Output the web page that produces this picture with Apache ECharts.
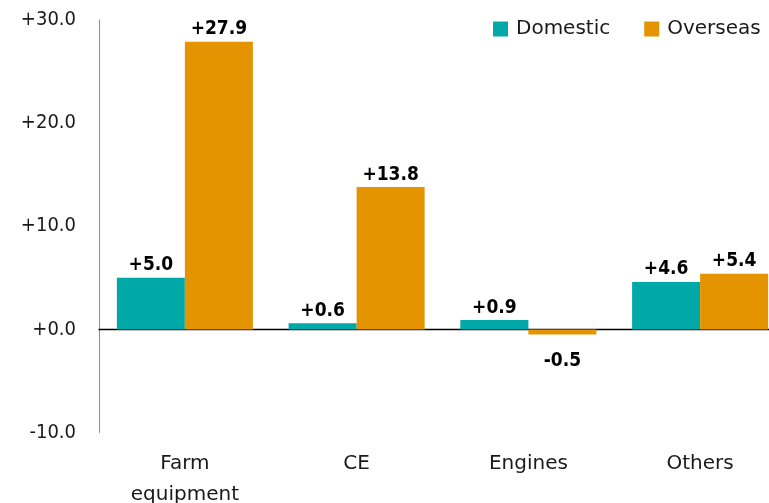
<!DOCTYPE html>
<html><head><meta charset="utf-8">
<script src="https://cdn.jsdelivr.net/npm/echarts@6/dist/echarts.min.js"></script>
<style>html,body{margin:0;padding:0;background:#fff;}#c{width:769px;height:503px;}</style>
</head><body><div id="c"></div>
<script>
const categories = ['Farm\nequipment', 'CE', 'Engines', 'Others'];
const domestic = [5.0, 0.6, 0.9, 4.6];
const overseas = [27.9, 13.8, -0.5, 5.4];
const seriesNames = ['Domestic', 'Overseas'];
const yTicks = { min: -10, max: 30, interval: 10 };

const fmt = v => (v >= 0 ? '+' : '') + Number(v).toFixed(1);
const FONT = 'DejaVu Sans';
const FONT_C = '"DejaVu Sans Condensed", "DejaVu Sans"';
function mkData(arr) {
  return arr.map(v => ({
    value: v,
    label: v < 0 ? { position: 'bottom', distance: 17 } : { position: 'top', distance: 3 }
  }));
}
const labelStyle = {
  show: true, fontFamily: FONT_C, fontSize: 19, fontWeight: 'bold', color: '#000',
  formatter: p => fmt(p.value)
};
const chart = echarts.init(document.getElementById('c'), null, { renderer: 'canvas' });
chart.setOption({
  animation: false,
  textStyle: { fontFamily: FONT },
  legend: {
    left: 488, top: 14, icon: 'rect', itemWidth: 15, itemHeight: 15, itemGap: 34,
    textStyle: { fontFamily: FONT, fontSize: 20, color: '#1a1a1a', padding: [0, 0, 0, 3] },
    data: seriesNames
  },
  grid: { left: 99, top: 20, width: 687, height: 412.5, outerBoundsMode: 'none', containLabel: false },
  xAxis: [
    {
      type: 'category', data: categories,
      axisLine: { show: true, onZero: true, lineStyle: { color: '#000', width: 1.3 } },
      axisTick: { show: false }, axisLabel: { show: false }, splitLine: { show: false }
    },
    {
      type: 'category', data: categories, position: 'bottom',
      axisLine: { show: false, onZero: false }, axisTick: { show: false },
      axisLabel: { fontFamily: FONT, fontSize: 20, color: '#1a1a1a', margin: 16, lineHeight: 31 },
      splitLine: { show: false }
    }
  ],
  yAxis: {
    type: 'value', min: yTicks.min, max: yTicks.max, interval: yTicks.interval,
    axisLine: { show: true, lineStyle: { color: '#8c8c8c', width: 1 } },
    axisTick: { show: false }, splitLine: { show: false },
    axisLabel: { fontFamily: FONT_C, fontSize: 20, color: '#1a1a1a', margin: 23, formatter: fmt, padding: [3, 0, 0, 0] }
  },
  series: [
    { name: seriesNames[0], type: 'bar', xAxisIndex: 0, data: mkData(domestic),
      itemStyle: { color: '#00A8A8' }, barGap: '0%', barCategoryGap: '20.8%', label: labelStyle },
    { name: seriesNames[1], type: 'bar', xAxisIndex: 0, data: mkData(overseas),
      itemStyle: { color: '#E39400' }, barGap: '0%', barCategoryGap: '20.8%', label: labelStyle }
  ]
});
</script></body></html>
